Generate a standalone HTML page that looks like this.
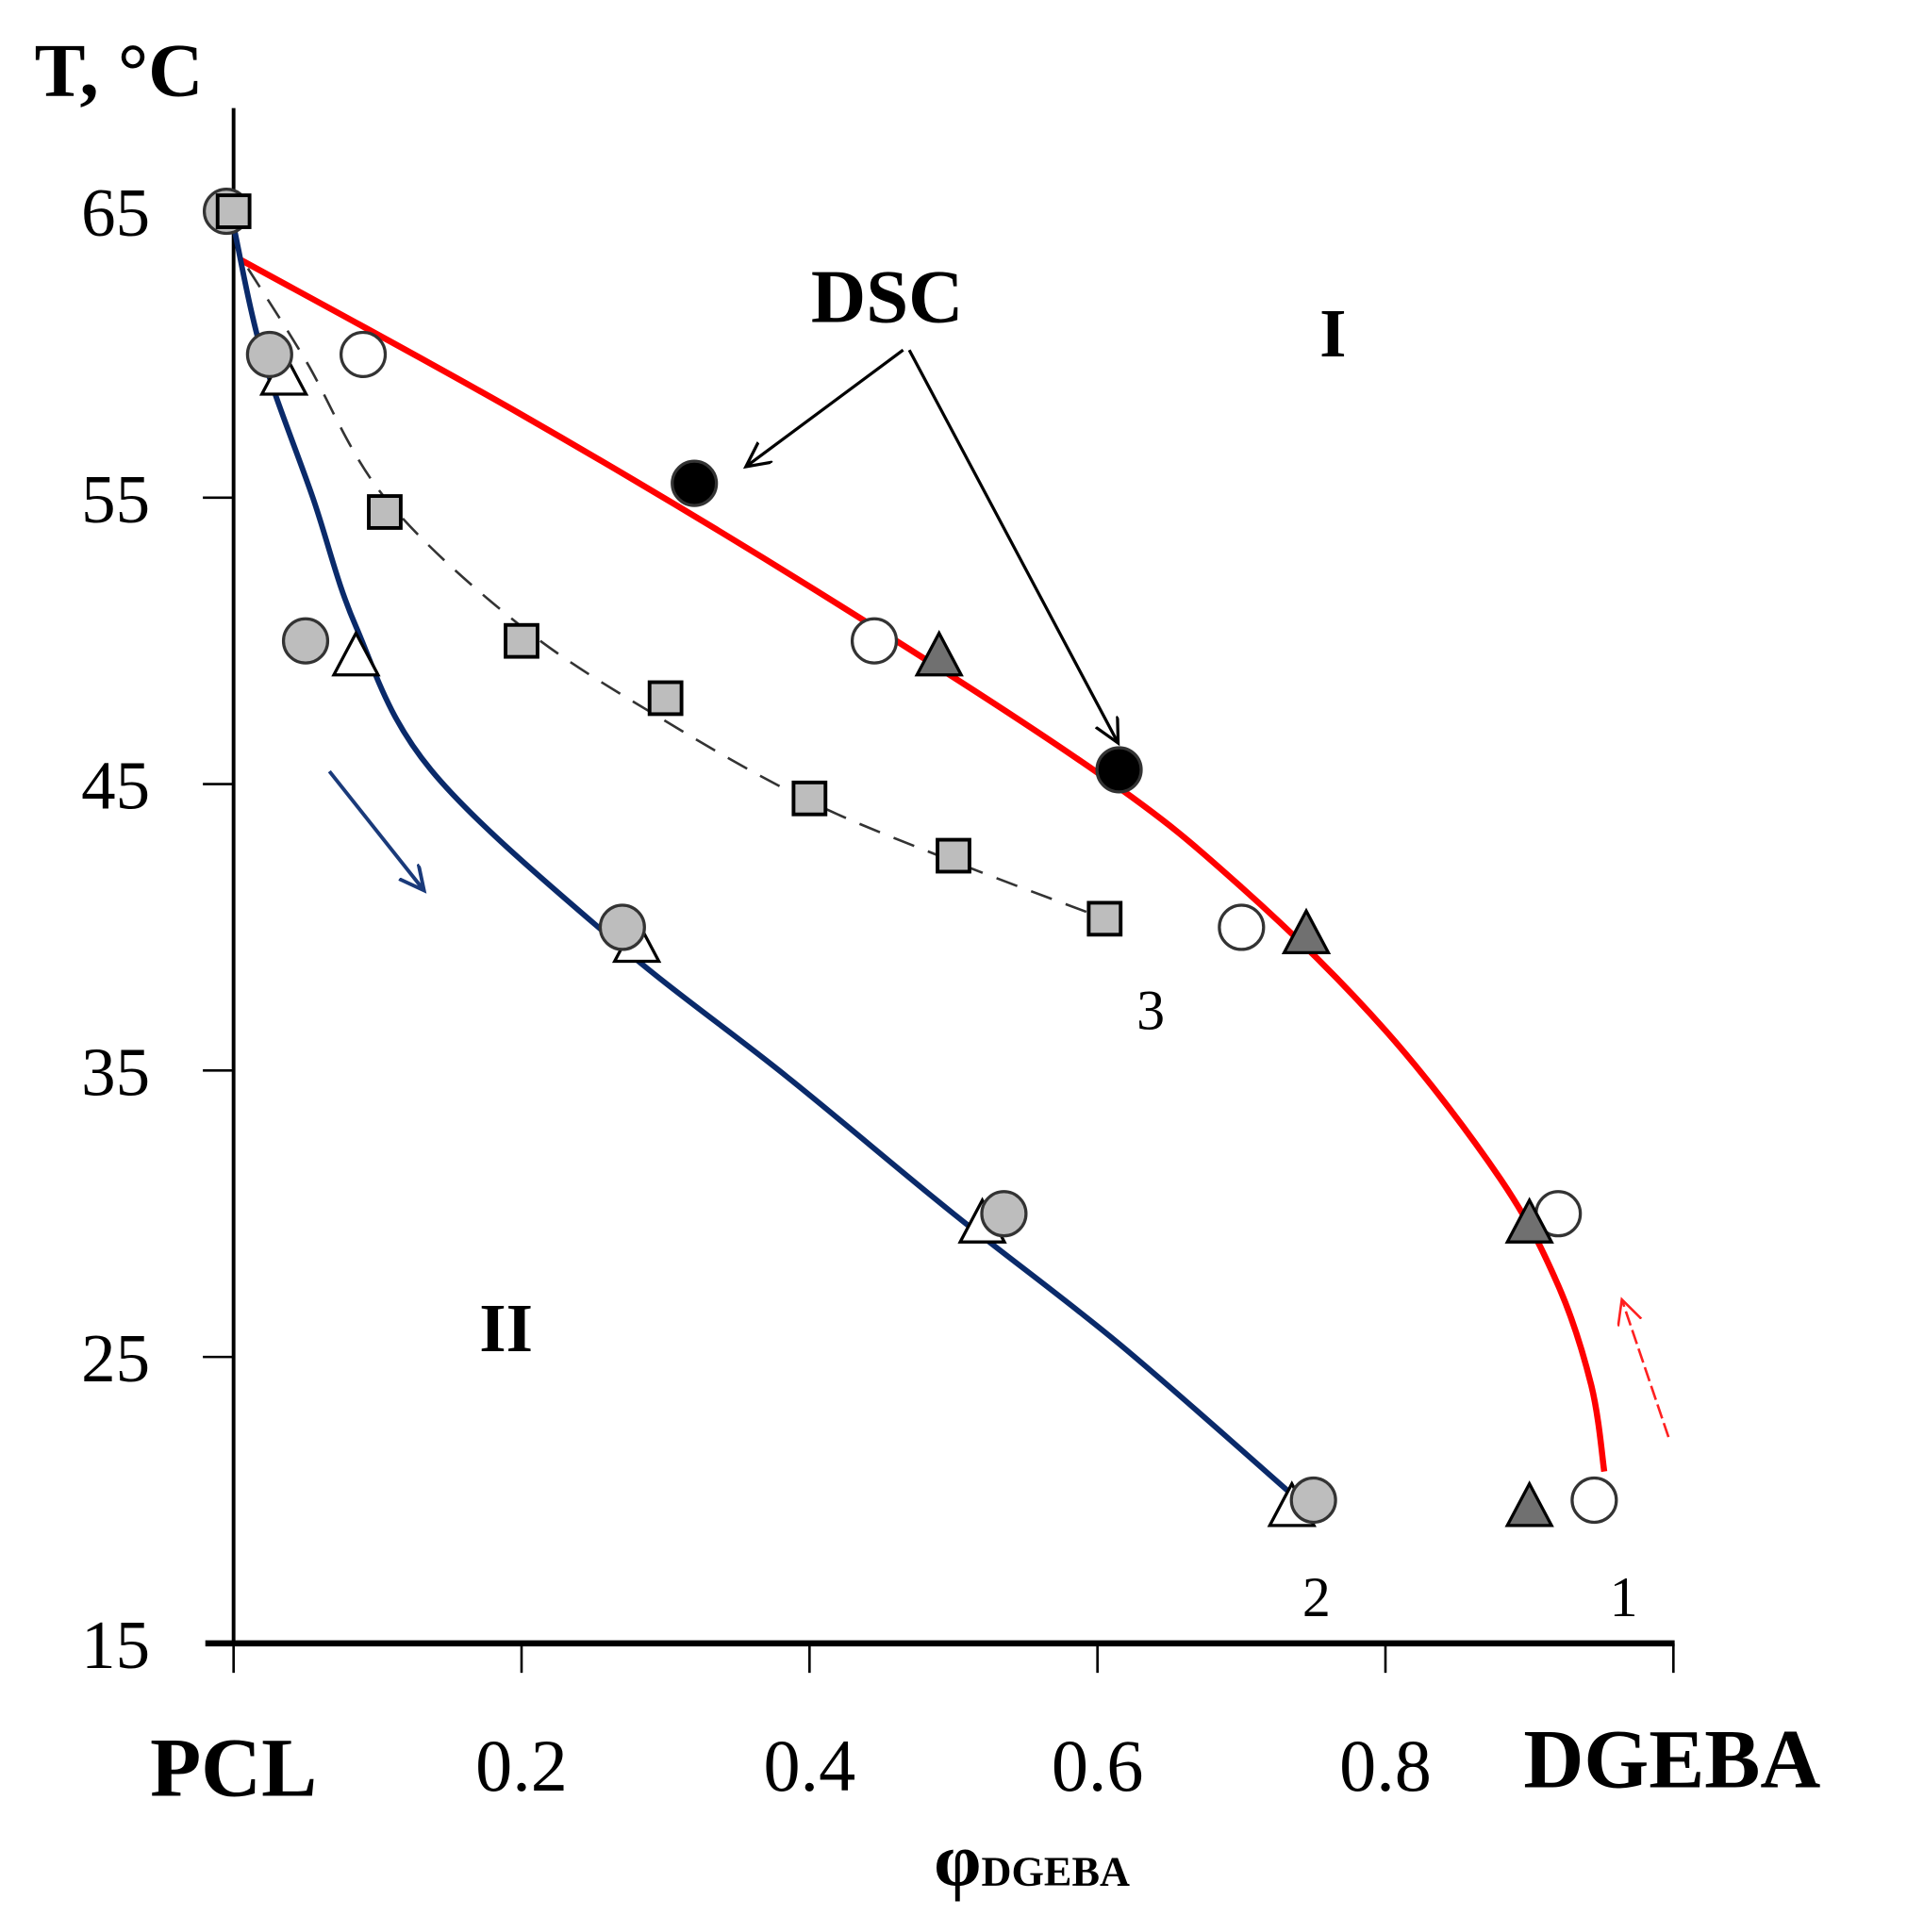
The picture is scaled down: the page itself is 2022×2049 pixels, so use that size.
<!DOCTYPE html>
<html><head><meta charset="utf-8"><style>html,body{margin:0;padding:0;background:#fff}svg{display:block}</style></head>
<body>
<svg id="chart" width="2022" height="2049" viewBox="0 0 1552 1573" xmlns="http://www.w3.org/2000/svg" font-family="Liberation Serif, serif">
<defs>
<marker id="ah" markerWidth="24" markerHeight="24" refX="20" refY="10" orient="auto" markerUnits="userSpaceOnUse"><path d="M0,0 L20,10 L0,20" fill="none" stroke="#000" stroke-width="2.5"/></marker>
<marker id="ahb" markerWidth="24" markerHeight="24" refX="20" refY="10" orient="auto" markerUnits="userSpaceOnUse"><path d="M0,0 L20,10 L0,20" fill="none" stroke="#1a3a7a" stroke-width="3"/></marker>
<marker id="ahr" markerWidth="24" markerHeight="24" refX="20" refY="10" orient="auto" markerUnits="userSpaceOnUse"><path d="M0,0 L20,10 L0,20" fill="none" stroke="#ff2020" stroke-width="2"/></marker>
</defs>
<g id="axes"></g>
<g id="curves"></g>
<g id="marks"></g>
<text x="28" y="78" font-size="62" font-weight="bold">T, °C</text>
<text x="122" y="1462" font-size="68" font-weight="bold">PCL</text>
<text x="1240" y="1455" font-size="68" font-weight="bold">DGEBA</text>
<text x="760" y="1535" font-size="62" font-weight="bold">φ<tspan font-size="34">DGEBA</tspan></text>
<text x="660" y="262" font-size="62" font-weight="bold">DSC</text>
<text x="1074" y="290" font-size="56" font-weight="bold">I</text>
<text x="390" y="1100" font-size="56" font-weight="bold">II</text>
<text x="925" y="838" font-size="46">3</text>
<text x="1060" y="1316" font-size="46">2</text>
<text x="1310" y="1316" font-size="46">1</text>
<line x1="735" y1="285" x2="607" y2="380" stroke="#000" stroke-width="2.5" marker-end="url(#ah)"/>
<line x1="740" y1="285" x2="910" y2="605" stroke="#000" stroke-width="2.5" marker-end="url(#ah)"/>
<line x1="268" y1="628" x2="345" y2="725" stroke="#1a3a7a" stroke-width="3" marker-end="url(#ahb)"/>
<line x1="1358" y1="1170" x2="1320" y2="1058" stroke="#ff2020" stroke-width="2" stroke-dasharray="12,4" marker-end="url(#ahr)"/>
</svg>
<script>
const xTicks=[0,0.2,0.4,0.6,0.8,1];
const xTickLabels=["","0.2","0.4","0.6","0.8",""];
const yTicks=[65,55,45,35,25,15];
const yTickLabels=["65","55","45","35","25","15"];
const curve1X=[0.005,0.2,0.4,0.6,0.7,0.8,0.88,0.92,0.943,0.952];
const curve1T=[63.3,57.9,51.9,45.4,41.4,36.4,31.2,27.5,24,21];
const curve2X=[0,0.02,0.055,0.085,0.137,0.265,0.384,0.5,0.614,0.735];
const curve2T=[64.5,60,55,50.5,45.5,39.5,34.8,30,25.5,20.2];
const curve3X=[0.01,0.05,0.105,0.2,0.3,0.4,0.5,0.605];
const curve3T=[63,59.8,55,50.5,47.2,44.4,42.3,40.3];
const c1CircX=[0.09,0.445,0.70,0.92,0.945];
const c1CircT=[60,50,40,30,20];
const c1TriX=[0.49,0.745,0.90,0.90];
const c1TriT=[49.5,39.8,29.7,19.8];
const dscX=[0.32,0.615];
const dscT=[55.5,45.5];
const c2CircX=[-0.005,0.025,0.05,0.27,0.535,0.75];
const c2CircT=[65,60,50,40,30,20];
const c2TriX=[0.035,0.085,0.28,0.52,0.735];
const c2TriT=[59.3,49.5,39.5,29.7,19.8];
const sqX=[0,0.105,0.2,0.3,0.4,0.5,0.605];
const sqT=[65,54.5,50,48,44.5,42.5,40.3];
const NS="http://www.w3.org/2000/svg";
const X=v=>190+v*1172, Y=t=>172+(65-t)*23.32;
function mk(tag,parent){const e=document.createElementNS(NS,tag);document.getElementById(parent).appendChild(e);return e;}
let a=mk('line','axes');a.setAttribute('x1',190);a.setAttribute('y1',88);a.setAttribute('x2',190);a.setAttribute('y2',1340);a.setAttribute('stroke','#000');a.setAttribute('stroke-width',3);


a=mk('line','axes');a.setAttribute('x1',167);a.setAttribute('y1',1338);a.setAttribute('x2',1363);a.setAttribute('y2',1338);a.setAttribute('stroke','#000');a.setAttribute('stroke-width',5);


xTicks.forEach((v,i)=>{const l=mk('line','axes');l.setAttribute('x1',X(v));l.setAttribute('x2',X(v));l.setAttribute('y1',1338);l.setAttribute('y2',1362);l.setAttribute('stroke','#000');l.setAttribute('stroke-width',2);


if(xTickLabels[i]){const t=mk('text','axes');t.setAttribute('x',X(v));t.setAttribute('y',1458);t.setAttribute('text-anchor','middle');t.setAttribute('font-size','60');t.textContent=xTickLabels[i];

}});
yTicks.forEach((v,i)=>{if(v!==65&&v!==15){const l=mk('line','axes');l.setAttribute('x1',165);l.setAttribute('x2',190);l.setAttribute('y1',Y(v));l.setAttribute('y2',Y(v));l.setAttribute('stroke','#000');l.setAttribute('stroke-width',2);

}
const t=mk('text','axes');t.setAttribute('x',122);t.setAttribute('y',Y(v)+20);t.setAttribute('text-anchor','end');t.setAttribute('font-size','56');t.textContent=yTickLabels[i];

});
function path(xs,ts,color,w,dash,name){const p=mk('path','curves');const P=xs.map((x,i)=>[X(x),Y(ts[i])]);
let d='M'+P[0][0].toFixed(1)+','+P[0][1].toFixed(1);
for(let i=0;i<P.length-1;i++){const p0=P[Math.max(0,i-1)],p1=P[i],p2=P[i+1],p3=P[Math.min(P.length-1,i+2)];
const k1=[p1[0]+(p2[0]-p0[0])/6,p1[1]+(p2[1]-p0[1])/6],k2=[p2[0]-(p3[0]-p1[0])/6,p2[1]-(p3[1]-p1[1])/6];
d+=' C'+k1[0].toFixed(1)+','+k1[1].toFixed(1)+' '+k2[0].toFixed(1)+','+k2[1].toFixed(1)+' '+p2[0].toFixed(1)+','+p2[1].toFixed(1);}
p.setAttribute('d',d);p.setAttribute('fill','none');p.setAttribute('stroke',color);p.setAttribute('stroke-width',w);p.setAttribute('stroke-linejoin','round');if(dash)p.setAttribute('stroke-dasharray',dash);

}
path(curve1X,curve1T,'#ff0000',5,null,'curve-1-line');
path(curve2X,curve2T,'#0a2a6a',4.5,null,'curve-2-line');
path(curve3X,curve3T,'#333',2,'18,12','curve-3-line');
function circ(xs,ts,fill,name){xs.forEach((x,i)=>{const c=mk('circle','marks');c.setAttribute('cx',X(x));c.setAttribute('cy',Y(ts[i]));c.setAttribute('r',18);c.setAttribute('fill',fill);c.setAttribute('stroke','#333');c.setAttribute('stroke-width',2.5);

});}
function tri(xs,ts,fill,name){xs.forEach((x,i)=>{const cx=X(x),cy=Y(ts[i]);const p=mk('polygon','marks');p.setAttribute('points',(cx-18)+','+(cy+16)+' '+(cx+18)+','+(cy+16)+' '+cx+','+(cy-18));p.setAttribute('fill',fill);p.setAttribute('stroke','#000');p.setAttribute('stroke-width',2.5);

});}
tri(c2TriX,c2TriT,'#fff','curve-2-triangle');
circ(c2CircX,c2CircT,'#bdbdbd','curve-2-circle');
sqX.forEach((x,i)=>{const r=mk('rect','marks');r.setAttribute('x',X(x)-13);r.setAttribute('y',Y(sqT[i])-13);r.setAttribute('width',26);r.setAttribute('height',26);r.setAttribute('fill','#bdbdbd');r.setAttribute('stroke','#000');r.setAttribute('stroke-width',3);

});
circ(c1CircX,c1CircT,'#fff','curve-1-circle');
tri(c1TriX,c1TriT,'#707070','curve-1-triangle');
circ(dscX,dscT,'#000','dsc-point');
</script>
</body></html>
